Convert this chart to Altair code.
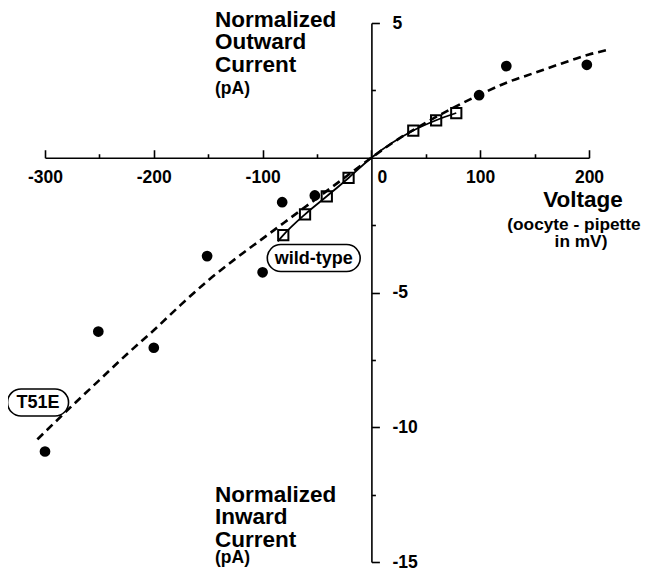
import altair as alt
import pandas as pd

# ---- data ----
t51e_v = [-300, -251, -200, -151, -100, -82, -52, 99, 124, 198]
t51e_i = [-10.9, -6.45, -7.05, -3.65, -4.25, -1.65, -1.4, 2.32, 3.4, 3.45]

wt_v = [-81, -61, -41, -21, 38.5, 59.5, 78]
wt_i = [-2.87, -2.1, -1.43, -0.75, 1.01, 1.39, 1.66]

wt_fit_v = [-86, -81, -61, -41, -21, 0, 38.5, 59.5, 78]
wt_fit_i = [-3.1, -2.87, -2.1, -1.43, -0.75, 0, 1.01, 1.39, 1.66]

t51e_fit_v = [-307, -275, -250, -225, -200, -175, -150, -125, -100, -75, -50, -25,
              0, 25, 50, 75, 100, 125, 150, 175, 200, 218]
t51e_fit_i = [-10.45, -9.2, -8.25, -7.3, -6.4, -5.45, -4.55, -3.75, -3.0, -2.25, -1.5, -0.75,
              0, 0.7, 1.3, 1.85, 2.35, 2.8, 3.15, 3.5, 3.83, 4.01]

x_major = [-300, -200, -100, 0, 100, 200]
x_minor = [-250, -150, -50, 50, 150]
y_major = [5, -5, -10, -15]
y_minor = [2.5, -2.5, -7.5, -12.5]

tag_text = ["T51E", "wild-type"]
tag_v = [-306.4, -53]
tag_i = [-9.08, -3.72]

top_title = ["Normalized", "Outward", "Current"]
bottom_title = ["Normalized", "Inward", "Current"]
unit_text = "(pA)"
x_title = "Voltage"
x_sub1 = "(oocyte - pipette"
x_sub2 = "in mV)"

# ---- layout ----
W, H = 544, 539
XD = [-300, 200]
YD = [-15, 5]
x0 = (0 - XD[0]) / (XD[1] - XD[0]) * W
y0 = (YD[1] - 0) / (YD[1] - YD[0]) * H
FONT = "Liberation Sans"
MINUS = "datum.value < 0 ? '-' + abs(datum.value) : '' + datum.value"

xs = alt.Scale(domain=XD, nice=False, zero=False)
ys = alt.Scale(domain=YD, nice=False, zero=False)

common = dict(grid=False, title=None, domainColor="black", tickColor="black",
              domainWidth=1.6, tickWidth=1.6, labelFont=FONT, labelFontSize=17.5,
              labelFontWeight="bold", labelColor="black", labelOverlap=False,
              labelFlush=False)

ax_x_major = alt.Axis(orient="top", offset=-y0, values=x_major, tickSize=8,
                      labelExpr="datum.value == 0 ? '' : (" + MINUS + ")",
                      labelBaseline="alphabetic", labelPadding=-32.5, **common)
ax_x_minor = alt.Axis(orient="top", offset=-y0, values=x_minor, tickSize=4,
                      labels=False, domain=False, **common)
ax_x_zero = alt.Axis(orient="top", offset=-y0, values=[0], tickSize=8, tickOpacity=0,
                     domain=False, labelExpr="'0'", labelOffset=10.5,
                     labelBaseline="alphabetic", labelPadding=-32.5, **common)
ax_y_major = alt.Axis(orient="right", offset=x0 - W, values=y_major, tickSize=8,
                      labelExpr=MINUS, labelPadding=12.5, labelAlign="left",
                      labelBaseline="middle", **common)
ax_y_minor = alt.Axis(orient="right", offset=x0 - W, values=y_minor, tickSize=4,
                      labels=False, domain=False, **common)

t51e_fit = pd.DataFrame({"v": t51e_fit_v, "i": t51e_fit_i})
wt_fit = pd.DataFrame({"v": wt_fit_v, "i": wt_fit_i})
t51e = pd.DataFrame({"v": t51e_v, "i": t51e_i})
wt = pd.DataFrame({"v": wt_v, "i": wt_i})
tags = pd.DataFrame({"t": tag_text, "v": tag_v, "i": tag_i})
one = pd.DataFrame({"k": [0]})

dashed = alt.Chart(t51e_fit).mark_line(
    color="black", strokeWidth=2.6, strokeDash=[8, 5], interpolate="monotone", clip=False
).encode(x=alt.X("v:Q", scale=xs, axis=ax_x_major), y=alt.Y("i:Q", scale=ys, axis=ax_y_major))

solid = alt.Chart(wt_fit).mark_line(
    color="black", strokeWidth=1.8, interpolate="monotone", clip=False
).encode(x=alt.X("v:Q", scale=xs, axis=ax_x_minor), y=alt.Y("i:Q", scale=ys, axis=ax_y_minor))

circles = alt.Chart(t51e).mark_circle(size=115, color="black", opacity=1, clip=False).encode(
    x=alt.X("v:Q", scale=xs, axis=ax_x_zero), y=alt.Y("i:Q", scale=ys, axis=None))

squares = alt.Chart(wt).mark_point(shape="square", size=105, filled=False, stroke="black",
                                   strokeWidth=2, opacity=1, clip=False).encode(
    x=alt.X("v:Q", scale=xs, axis=None), y=alt.Y("i:Q", scale=ys, axis=None))

def pill(half_straight):
    h = half_straight
    return (f"M {-h} -1 L {h} -1 A 1 1 0 0 1 {h} 1 L {-h} 1 "
            f"A 1 1 0 0 1 {-h} -1 Z")

bub1 = alt.Chart(tags.iloc[[0]]).mark_point(
    shape=pill(1.26), size=729, filled=True, fill="white", stroke="black",
    strokeWidth=1.6, opacity=1, fillOpacity=1, clip=False
).encode(x=alt.X("v:Q", scale=xs, axis=None), y=alt.Y("i:Q", scale=ys, axis=None))

bub2 = alt.Chart(tags.iloc[[1]]).mark_point(
    shape=pill(2.44), size=729, filled=True, fill="white", stroke="black",
    strokeWidth=1.6, opacity=1, fillOpacity=1, clip=False
).encode(x=alt.X("v:Q", scale=xs, axis=None), y=alt.Y("i:Q", scale=ys, axis=None))

tag_txt = alt.Chart(tags).mark_text(
    font=FONT, fontSize=18, fontWeight="bold", color="black", align="center",
    baseline="middle", dy=1, clip=False
).encode(x=alt.X("v:Q", scale=xs, axis=None), y=alt.Y("i:Q", scale=ys, axis=None), text="t:N")

def label(text, x, y, size, align="left"):
    return alt.Chart(one).mark_text(
        text=text, font=FONT, fontSize=size, fontWeight="bold", color="black",
        align=align, baseline="alphabetic", lineHeight=22.5
    ).encode(x=alt.value(x), y=alt.value(y))

texts = [
    label(top_title, 170, 3.7, 22.5),
    label(unit_text, 170, 71, 17.5),
    label(bottom_title, 170, 478.7, 22.5),
    label(unit_text, 170, 540, 17.5),
    label(x_title, 538, 184, 22.5, "center"),
    label(x_sub1, 529, 207, 17.3, "center"),
    label(x_sub2, 536, 223.7, 17.3, "center"),
]

chart = alt.layer(dashed, solid, circles, squares, bub1, bub2, tag_txt, *texts).resolve_axis(
    x="independent", y="independent"
).properties(
    width=W, height=H,
    autosize=alt.AutoSizeParams(type="none"),
    padding={"left": 37, "top": 15, "right": 52, "bottom": 11},
).configure_view(stroke=None)

chart.save("out.html", embed_options={"renderer": "svg", "actions": False})
